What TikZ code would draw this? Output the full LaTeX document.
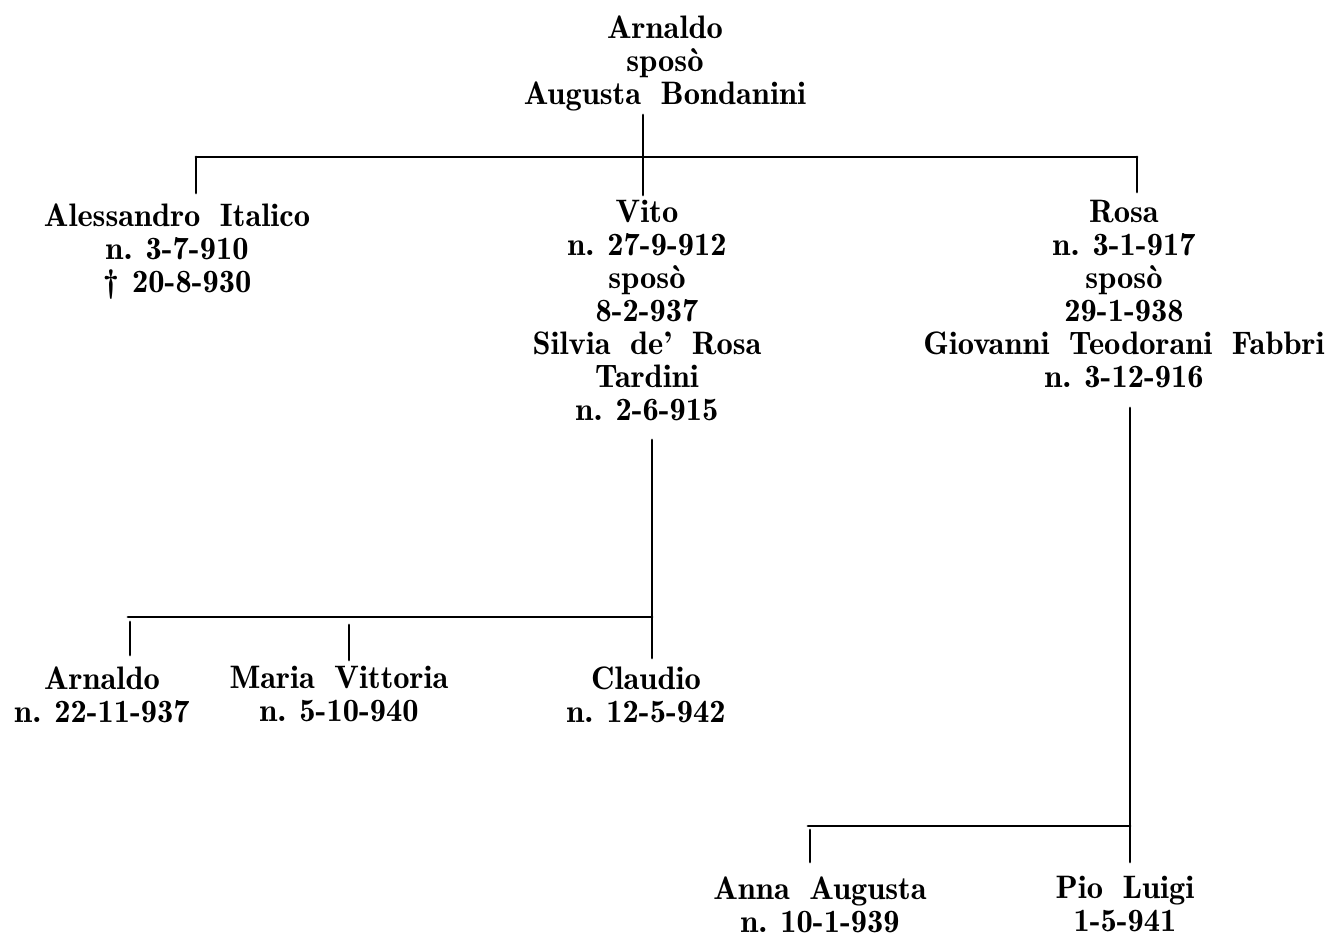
\documentclass[tikz,border=0pt]{standalone}
\usepackage{fontspec}
\newfontfamily\demi{lmromandemi10-regular.otf}
\tikzset{
  person/.style={align=center, inner sep=0pt, anchor=north,
    font=\demi\fontsize{18.5}{18.8}\selectfont},
  link/.style={line width=1.6pt, line cap=round},
}
\newcommand{\ws}{\hspace{0.6em}}
\newcommand{\ns}{\hspace{0.4em}}
\begin{document}
\begin{tikzpicture}[x=0.02cm,y=-0.02cm]
\useasboundingbox (0,0) rectangle (1343,938);
% people
\node[person] (top)  at (665,15)  {Arnaldo\\spos\`o\\Augusta\ws Bondanini};
\node[person] (ales) at (177,203) {Alessandro\ws Italico\\n.\ns 3-7-910\\\dag\ns 20-8-930};
\node[person] (vito) at (647,200) {Vito\\n.\ns 27-9-912\\spos\`o\\8-2-937\\Silvia\ws de’\ws Rosa\\Tardini\\n.\ns 2-6-915};
\node[person] (rosa) at (1124,200) {Rosa\\n.\ns 3-1-917\\spos\`o\\29-1-938\\Giovanni\ws Teodorani\ws Fabbri\\n.\ns 3-12-916};
\node[person] (arn)  at (102,666) {Arnaldo\\n.\ns 22-11-937};
\node[person] (mv)   at (339,666) {Maria\ws Vittoria\\n.\ns 5-10-940};
\node[person] (cl)   at (646,666) {Claudio\\n.\ns 12-5-942};
\node[person] (anna) at (820,876) {Anna\ws Augusta\\n.\ns 10-1-939};
\node[person] (pio)  at (1125,876) {Pio\ws Luigi\\1-5-941};
% junction coordinates
\coordinate (b1) at (643,157);
\coordinate (bL) at (196,157);
\coordinate (bR) at (1137,157);
\coordinate (v1) at (652,617);
\coordinate (vL) at (128,617);
\coordinate (r1) at (1130,826);
\coordinate (rL) at (808,826);
% first generation
\draw[link] (643,115) -- (b1);
\draw[link] (bL) -- (bR);
\draw[link] (bL) -- (bL |- 0,193);
\draw[link] (b1) -- (b1 |- 0,195);
\draw[link] (bR) -- (bR |- 0,192);
% Vito's children
\draw[link] (v1 |- 0,440) -- (v1 |- 0,658);
\draw[link] (vL) -- (v1);
\draw[link] (130,622) -- (130,655);
\draw[link] (349,625) -- (349,660);
% Rosa's children
\draw[link] (r1 |- 0,408) -- (r1 |- 0,862);
\draw[link] (rL) -- (r1);
\draw[link] (810,830) -- (810,862);
\end{tikzpicture}
\end{document}
